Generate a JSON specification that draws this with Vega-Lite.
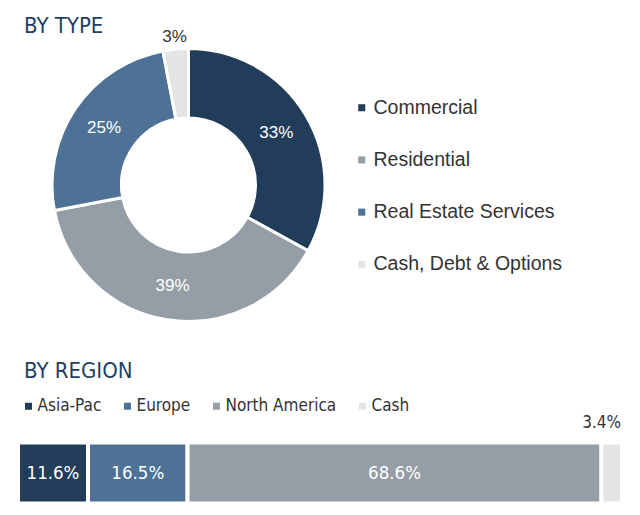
{
  "$schema": "https://vega.github.io/schema/vega-lite/v6.json",
  "padding": {"left": 16, "top": 15, "right": 0, "bottom": 0},
  "background": "white",
  "config": {
    "view": {"stroke": null},
    "font": "Liberation Sans",
    "concat": {"spacing": 18.5}
  },
  "resolve": {"scale": {"color": "independent"}, "legend": {"color": "independent"}},
  "vconcat": [
    {
      "width": 341,
      "height": 272,
      "title": {"text": "BY TYPE", "anchor": "start", "fontSize": 22, "fontWeight": "normal", "color": "#1d3f63", "dx": 6, "offset": -10.5, "font": "DejaVu Sans Condensed, Roboto"},
      "data": {"values": [
        {"type": "Commercial", "pct": 33, "label": "33%", "order": 1},
        {"type": "Residential", "pct": 39, "label": "39%", "order": 2},
        {"type": "Real Estate Services", "pct": 25, "label": "25%", "order": 3},
        {"type": "Cash, Debt & Options", "pct": 3, "label": "3%", "order": 4}
      ]},
      "encoding": {
        "theta": {"field": "pct", "type": "quantitative", "stack": true},
        "order": {"field": "order", "type": "quantitative"},
        "detail": {"field": "type", "type": "nominal"}
      },
      "layer": [
        {
          "mark": {"type": "arc", "innerRadius": 67, "outerRadius": 136.5, "stroke": "white", "strokeWidth": 3},
          "encoding": {
            "color": {
              "field": "type", "type": "nominal",
              "scale": {"domain": ["Commercial", "Residential", "Real Estate Services", "Cash, Debt & Options"], "range": ["#223d59", "#959ea6", "#4e7295", "#e2e4e6"]},
              "legend": {
                "title": null, "orient": "none", "direction": "vertical", "legendX": 334, "legendY": 49,
                "symbolType": "square", "symbolSize": 50, "symbolStrokeWidth": 0,
                "labelFontSize": 19.5, "labelColor": "#333333", "labelFont": "Liberation Sans",
                "rowPadding": 31.2, "labelOffset": 2, "labelLimit": 400
              }
            }
          }
        },
        {
          "mark": {"type": "text", "radius": 102, "fill": "white", "fontSize": 17, "font": "Liberation Sans"},
          "encoding": {
            "text": {"field": "label", "type": "nominal", "condition": {"test": "datum.type === 'Cash, Debt & Options'", "value": ""}}
          }
        },
        {
          "mark": {"type": "text", "radius": 149, "fill": "#333333", "fontSize": 17, "font": "Liberation Sans"},
          "encoding": {
            "text": {"field": "label", "type": "nominal", "condition": {"test": "datum.type !== 'Cash, Debt & Options'", "value": ""}}
          }
        }
      ]
    },
    {
      "width": 604,
      "height": 61,
      "title": {"text": "BY REGION", "anchor": "start", "fontSize": 22, "fontWeight": "normal", "color": "#1d3f63", "dx": 8, "offset": 15, "font": "DejaVu Sans Condensed, Roboto"},
      "data": {"values": [
        {"region": "Asia-Pac", "pct": 11.6, "label": "11.6%", "order": 1, "g": "all"},
        {"region": "Europe", "pct": 16.5, "label": "16.5%", "order": 2, "g": "all"},
        {"region": "North America", "pct": 68.6, "label": "68.6%", "order": 3, "g": "all"},
        {"region": "Cash", "pct": 3.4, "label": "3.4%", "order": 4, "g": "all"}
      ]},
      "transform": [
        {"stack": "pct", "groupby": ["g"], "sort": [{"field": "order"}], "as": ["x0", "x1"]},
        {"calculate": "(datum.x0 + datum.x1) / 2", "as": "xm"}
      ],
      "encoding": {
        "y": {"field": "g", "type": "nominal", "axis": null, "scale": {"paddingInner": 0, "paddingOuter": 0}}
      },
      "layer": [
        {
          "mark": {"type": "bar", "stroke": "white", "strokeWidth": 4},
          "encoding": {
            "x": {"field": "x0", "type": "quantitative", "scale": {"domain": [0, 100.1], "nice": false, "zero": false}, "axis": null},
            "x2": {"field": "x1"},
            "color": {
              "field": "region", "type": "nominal",
              "scale": {"domain": ["Asia-Pac", "Europe", "North America", "Cash"], "range": ["#223d59", "#4e7295", "#959ea6", "#e2e4e6"]},
              "legend": {
                "title": null, "orient": "none", "direction": "horizontal", "legendX": 2, "legendY": -45,
                "symbolType": "square", "symbolSize": 49, "symbolStrokeWidth": 0,
                "labelFontSize": 17, "labelColor": "#333333", "labelFont": "DejaVu Sans Condensed, Roboto",
                "columnPadding": 17, "labelOffset": 0.5, "labelLimit": 300
              }
            }
          }
        },
        {
          "mark": {"type": "text", "fill": "white", "fontSize": 18.5, "font": "DejaVu Sans Condensed, Roboto"},
          "encoding": {
            "x": {"field": "xm", "type": "quantitative"},
            "text": {"field": "label", "type": "nominal", "condition": {"test": "datum.region === 'Cash'", "value": ""}}
          }
        },
        {
          "mark": {"type": "text", "fill": "#333333", "fontSize": 17, "align": "right", "baseline": "alphabetic", "dy": -15, "dx": -1, "font": "DejaVu Sans Condensed, Roboto"},
          "encoding": {
            "x": {"field": "x1", "type": "quantitative"},
            "y": {"field": "g", "type": "nominal", "bandPosition": 0},
            "text": {"field": "label", "type": "nominal", "condition": {"test": "datum.region !== 'Cash'", "value": ""}}
          }
        }
      ]
    }
  ]
}
